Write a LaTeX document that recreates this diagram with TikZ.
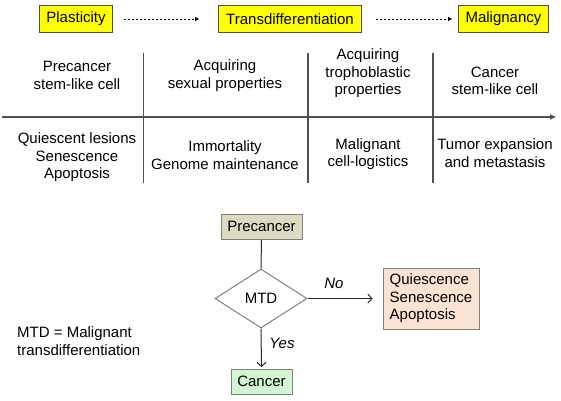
\documentclass[tikz,border=0pt]{standalone}
\usepackage{fontspec}
\setmainfont{Liberation Sans}
\usetikzlibrary{arrows.meta,shapes.geometric}
\definecolor{boxyellow}{HTML}{FFFF00}
\definecolor{precfill}{HTML}{DDD9C3}
\definecolor{quiesfill}{HTML}{FBE3D3}
\definecolor{cancfill}{HTML}{D3F5D3}
\definecolor{linegray}{HTML}{505050}
\tikzset{
  every node/.style={font=\fontsize{15}{17.5}\selectfont, inner sep=0pt},
  topbox/.style={draw=linegray, line width=0.9pt, fill=boxyellow, minimum height=27pt},
  flowbox/.style={draw=gray, line width=1pt, minimum height=25pt},
  txt/.style={align=center},
  dasharrow/.style={dashed, dash pattern=on 2pt off 2pt, line width=0.9pt, -{Triangle[length=4pt,width=4pt]}},
  flowarrow/.style={line width=1pt, draw=black!85, -{Straight Barb[length=4pt,width=9pt]}},
  divider/.style={draw=linegray, line width=1.2pt},
}
\begin{document}
\begin{tikzpicture}[x=1pt,y=-1pt]
\useasboundingbox (0,0) rectangle (561,400);
% top boxes
\node[topbox, minimum width=73pt] (plast) at (76,19) {Plasticity};
\node[topbox, minimum width=143pt] (trans) at (290,19) {Transdifferentiation};
\node[topbox, minimum width=90pt] (malig) at (503.5,19) {Malignancy};
\draw[dasharrow, shorten <=11pt, shorten >=19pt] (plast.east) -- (trans.west);
\draw[dasharrow, shorten <=14pt, shorten >=6pt] (trans.east) -- (malig.west);
% axis
\coordinate (ax0) at (2,117);
\coordinate (ax1) at (556,117);
\draw[draw=linegray, line width=1.8pt, -{Triangle[length=6pt,width=5pt]}] (ax0) -- (ax1);
% dividers
\coordinate (v1t) at (143.5,53); \coordinate (v1b) at (143.5,183);
\coordinate (v2t) at (308,53); \coordinate (v2b) at (308,183);
\coordinate (v3t) at (433,53); \coordinate (v3b) at (433,183);
\draw[divider] (v1t) -- (v1b);
\draw[divider] (v2t) -- (v2b);
\draw[divider] (v3t) -- (v3b);
% upper texts
\node[txt] (t1) at (77,75.5) {Precancer\\stem-like cell};
\node[txt] (t2) at (225,75.5) {Acquiring\\sexual properties};
\node[txt] (t3) at (368,73.5) {Acquiring\\trophoblastic\\properties};
\node[txt] (t4) at (495,81) {Cancer\\stem-like cell};
% lower texts
\node[txt] (b1) at (77,157.5) {Quiescent lesions\\Senescence\\Apoptosis};
\node[txt] (b2) at (225,155) {Immortality\\Genome maintenance};
\node[txt] (b3) at (368,154) {Malignant\\cell-logistics};
\node[txt] (b4) at (495,153) {Tumor expansion\\and metastasis};
% flowchart
\node[flowbox, fill=precfill, minimum width=81pt] (prec) at (261.5,226.5) {Precancer};
\node[draw=gray, line width=1pt, shape=diamond, minimum width=92pt, minimum height=59pt] (mtd) at (261,298.5) {MTD};
\node[flowbox, fill=quiesfill, minimum width=96pt, minimum height=61pt, align=left] (quies) at (431,298.5) {Quiescence\\Senescence\\Apoptosis};
\node[flowbox, fill=cancfill, minimum width=61pt] (canc) at (261.5,381.5) {Cancer};
\draw[draw=black!85, line width=1pt] (prec.south) -- (mtd.north);
\draw[flowarrow, shorten >=10pt] (mtd.east) -- (quies.west);
\draw[flowarrow, shorten >=1.5pt] (mtd.south) -- (canc.north);
\node (no) at (334,283) {\itshape No};
\node (yes) at (282,343) {\itshape Yes};
\node[align=left, anchor=west] (legend) at (17,341) {MTD = Malignant\\transdifferentiation};
\end{tikzpicture}
\end{document}
